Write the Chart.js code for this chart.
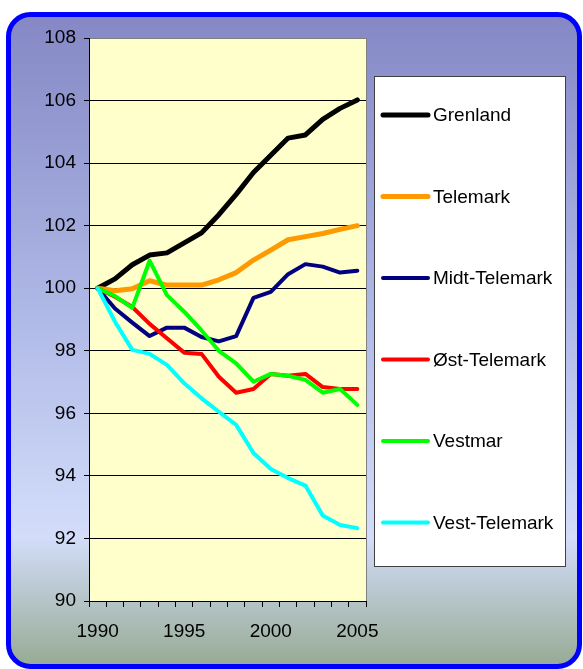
<!DOCTYPE html>
<html>
<head>
<meta charset="utf-8">
<script src="https://cdn.jsdelivr.net/npm/chart.js@4"></script>
<style>
  html, body { margin: 0; padding: 0; background: #fff; }
  #wrap { width: 583px; height: 669px; }
</style>
</head>
<body>
<div id="wrap"><canvas id="myChart" width="583" height="669"></canvas></div>
<script>
let years = [];
for (let y = 1990; y <= 2005; y++) years.push(String(y));

let grenland     = [100, 100.3, 100.75, 101.06, 101.13, 101.45, 101.77, 102.35, 103.0, 103.7, 104.25, 104.8, 104.9, 105.4, 105.75, 106.02];
let telemark     = [100, 99.92, 99.98, 100.24, 100.1, 100.1, 100.1, 100.27, 100.5, 100.9, 101.22, 101.55, 101.65, 101.75, 101.88, 102.0];
let midtTelemark = [100, 99.35, 98.9, 98.47, 98.74, 98.74, 98.44, 98.3, 98.47, 99.69, 99.88, 100.45, 100.77, 100.69, 100.5, 100.56];
let ostTelemark  = [100, 99.73, 99.4, 98.86, 98.4, 97.94, 97.9, 97.17, 96.66, 96.78, 97.26, 97.2, 97.26, 96.84, 96.78, 96.78];
let vestmar      = [100, 99.75, 99.37, 100.88, 99.78, 99.25, 98.65, 98.0, 97.6, 97.01, 97.26, 97.2, 97.07, 96.66, 96.78, 96.27];
let vestTelemark = [100, 98.93, 98.03, 97.9, 97.55, 96.96, 96.48, 96.05, 95.63, 94.73, 94.22, 93.93, 93.69, 92.73, 92.43, 92.33];

let seriesNames  = ['Grenland', 'Telemark', 'Midt-Telemark', 'Øst-Telemark', 'Vestmar', 'Vest-Telemark'];
let seriesData   = [grenland, telemark, midtTelemark, ostTelemark, vestmar, vestTelemark];
let seriesColors = ['#000000', '#FF9900', '#000080', '#FF0000', '#00FF00', '#00FFFF'];
let seriesWidths = [5, 5, 4, 4, 4, 4];

const FONT = 'Liberation Sans, Arial, sans-serif';

// frame, plot background, plot border, legend
const decor = {
    id: 'decor',
    beforeDraw(chart) {
        const c = chart.ctx;
        const W = chart.width, H = chart.height;
        c.save();
        c.fillStyle = '#fff';
        c.fillRect(0, 0, W, H);
        const g = c.createLinearGradient(0, 12, 0, 668);
        g.addColorStop(0, '#8487C4');
        g.addColorStop(0.45, '#AEB8E6');
        g.addColorStop(0.8, '#D3DDFA');
        g.addColorStop(1, '#96AA92');
        c.beginPath();
        c.roundRect(8.5, 14.5, 571, 652, 22);
        c.fillStyle = g;
        c.fill();
        c.lineWidth = 5;
        c.strokeStyle = '#0000FF';
        c.stroke();

        const a = chart.chartArea;
        c.fillStyle = '#FFFFCC';
        c.fillRect(a.left, a.top, a.right - a.left, a.bottom - a.top);
        c.restore();
    },
    afterDatasetsDraw(chart) {
        const c = chart.ctx;
        const a = chart.chartArea;
        c.save();
        c.strokeStyle = '#808080';
        c.lineWidth = 1;
        c.beginPath();
        c.moveTo(a.right + 0.5, a.top);
        c.lineTo(a.right + 0.5, a.bottom);
        c.stroke();

        // legend
        c.fillStyle = '#FFFFFF';
        c.fillRect(374, 76, 192, 491);
        c.strokeStyle = '#404040';
        c.strokeRect(374.5, 76.5, 191, 490);
        c.font = '19px ' + FONT;
        c.textBaseline = 'middle';
        c.textAlign = 'left';
        chart.data.datasets.forEach(function (ds, i) {
            const y = 115 + i * 81.5;
            c.strokeStyle = ds.borderColor;
            c.lineWidth = ds.borderWidth;
            c.lineCap = 'round';
            c.beginPath();
            c.moveTo(383, y);
            c.lineTo(428, y);
            c.stroke();
            c.fillStyle = '#000';
            c.fillText(ds.label, 433, y + 1);
        });
        c.restore();
    }
};

let ctx = document.getElementById('myChart');
new Chart(ctx, {
    type: 'line',
    data: {
        labels: years,
        datasets: seriesNames.map(function (name, i) {
            return {
                label: name,
                data: seriesData[i],
                borderColor: seriesColors[i],
                backgroundColor: seriesColors[i],
                borderWidth: seriesWidths[i],
                pointRadius: 0,
                tension: 0,
                borderJoinStyle: 'round',
                borderCapStyle: 'round',
                order: seriesNames.length - i
            };
        })
    },
    options: {
        responsive: false,
        animation: false,
        events: [],
        layout: { padding: { top: 38, right: 217, left: 0, bottom: 0 } },
        plugins: { legend: { display: false }, tooltip: { enabled: false } },
        scales: {
            x: {
                type: 'category',
                offset: true,
                grid: {
                    offset: true,
                    drawOnChartArea: false,
                    color: '#000',
                    tickColor: '#000',
                    tickLength: 6
                },
                border: { color: '#000', width: 1 },
                ticks: {
                    autoSkip: false,
                    maxRotation: 0,
                    color: '#000',
                    padding: 13,
                    font: { family: FONT, size: 19 },
                    callback: function (v, i) { return i % 5 === 0 ? this.getLabelForValue(v) : ''; }
                },
                afterFit: function (s) { s.height = 68; }
            },
            y: {
                min: 90,
                max: 108,
                grid: {
                    color: function (c) { return c.tick && c.tick.value === 108 ? '#808080' : '#000'; },
                    tickColor: '#000',
                    tickLength: 5,
                    lineWidth: 1
                },
                border: { color: '#000', width: 1 },
                ticks: {
                    stepSize: 2,
                    color: '#000',
                    padding: 8,
                    font: { family: FONT, size: 19 }
                },
                afterFit: function (s) { s.width = 89; }
            }
        }
    },
    plugins: [decor]
});
</script>
</body>
</html>
